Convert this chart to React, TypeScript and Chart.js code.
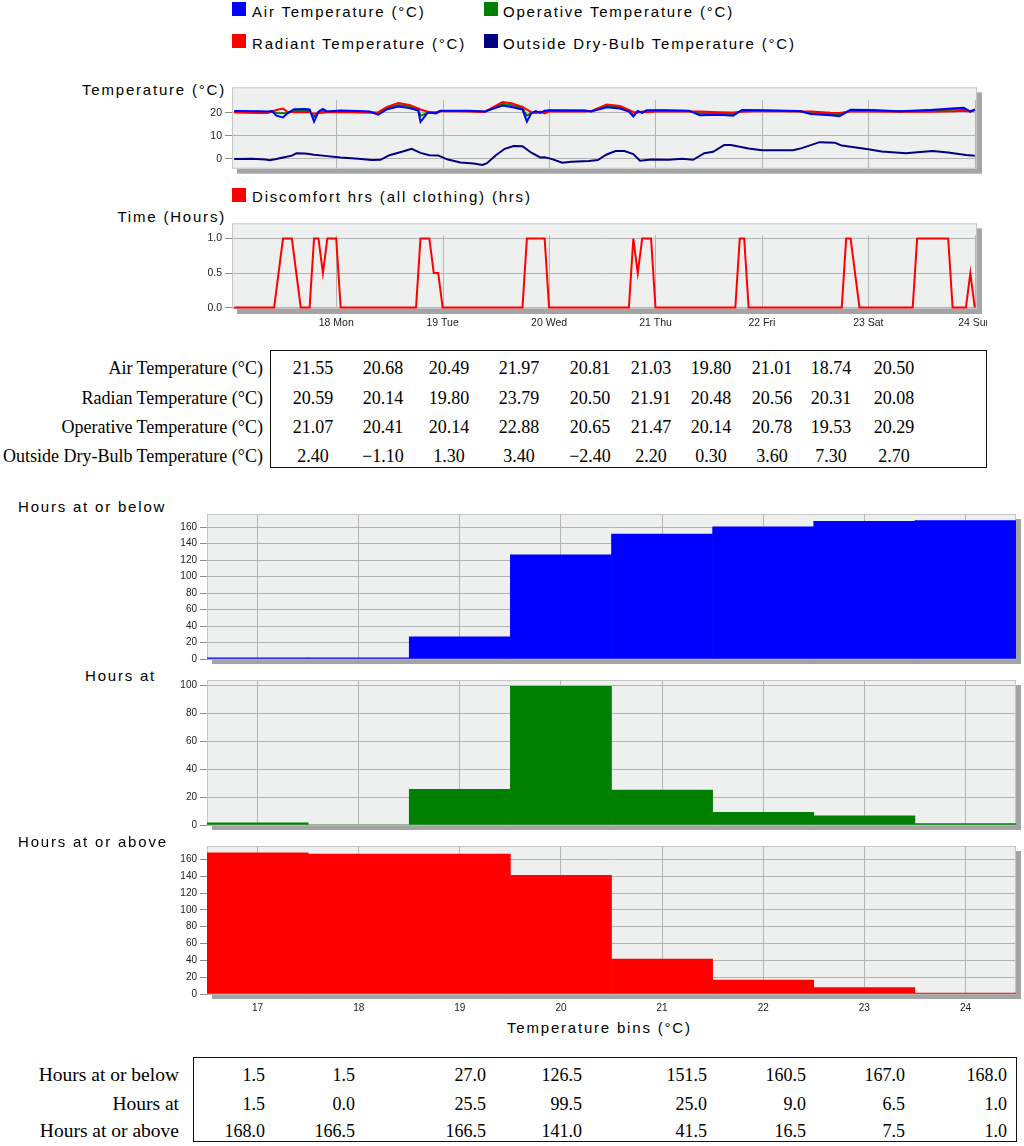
import React, { useEffect, useRef } from 'react';
import { Chart, registerables } from 'chart.js';

Chart.register(...registerables);

// ---------------- DATA ----------------
const dayTickHours = [24, 48, 72, 96, 120, 144, 168];
const dayTickLabels = ['18 Mon', '19 Tue', '20 Wed', '21 Thu', '22 Fri', '23 Sat', '24 Sun'];

const indoorHours = [1, 7, 8.5, 9.5, 10.5, 12, 13, 14.5, 17, 18, 19, 20, 21, 22, 25, 29, 31.5, 33.5, 35.5, 38, 40.5, 42.5, 43, 44.5, 45, 46.5, 47.5, 54, 57.5, 61.5, 63.5, 66, 67, 68, 69, 70, 71, 72, 80, 81.5, 85, 88, 90, 91, 92, 93, 94, 97, 103.5, 106, 110.5, 113.5, 115.5, 119.5, 128.5, 131, 135.5, 137.5, 140, 144.5, 151, 158, 163.5, 165.5, 167, 168];
const airTemp = [20.8, 20.7, 20.6, 20.8, 18.8, 18.0, 19.8, 21.6, 21.7, 21.5, 16.2, 20.5, 21.7, 20.6, 21.0, 20.8, 20.6, 19.2, 21.6, 22.8, 22.1, 21.0, 16.1, 19.8, 20.2, 19.8, 20.9, 20.9, 20.6, 23.2, 22.6, 21.5, 16.2, 19.8, 20.8, 20.0, 21.0, 21.2, 21.1, 20.6, 22.5, 21.9, 20.6, 18.4, 20.8, 20.0, 21.2, 21.2, 21.0, 19.0, 19.2, 18.8, 21.3, 21.2, 20.8, 19.5, 19.0, 18.6, 21.4, 21.3, 20.7, 21.3, 22.0, 22.3, 20.6, 21.5];
const radiantTemp = [20.2, 20.0, 20.0, 20.6, 21.3, 21.9, 20.5, 20.3, 20.4, 20.3, 19.6, 20.0, 20.1, 20.3, 20.4, 20.2, 20.1, 20.3, 22.6, 24.3, 23.5, 22.0, 21.5, 20.6, 20.4, 20.3, 20.8, 20.6, 20.4, 24.8, 24.2, 22.6, 21.4, 20.3, 20.0, 20.6, 19.8, 20.6, 20.6, 20.8, 23.7, 23.0, 21.3, 20.4, 20.2, 20.6, 20.3, 20.7, 20.6, 20.6, 20.3, 20.2, 20.5, 20.8, 20.6, 20.6, 20.1, 20.0, 20.6, 20.6, 20.5, 20.5, 20.7, 20.9, 20.6, 21.2];
const operativeTemp = [20.4, 20.3, 20.3, 20.7, 20.0, 19.8, 20.0, 20.8, 20.9, 20.8, 18.3, 20.2, 20.7, 20.5, 20.7, 20.5, 20.4, 19.8, 22.2, 23.5, 22.8, 21.5, 18.7, 20.0, 20.2, 20.0, 20.8, 20.8, 20.5, 24.0, 23.4, 22.0, 18.8, 20.0, 20.3, 20.2, 20.4, 20.9, 20.9, 20.7, 23.1, 22.4, 20.9, 19.1, 20.5, 20.2, 20.8, 21.0, 20.8, 19.8, 19.8, 19.4, 20.9, 21.0, 20.7, 20.0, 19.5, 19.3, 21.0, 21.0, 20.6, 21.0, 21.4, 21.6, 20.6, 21.4];

const outsideHours = [1, 5, 8, 9, 10.5, 12, 14, 15, 17, 19, 22, 25, 29, 32, 34, 36, 39, 41, 43, 45, 47, 49, 52, 55, 57, 58, 60, 62, 64, 66, 68, 70, 71, 72.5, 75, 77, 81, 83, 85, 87, 89, 91, 92.5, 95, 99, 102, 104.5, 107, 109, 111.5, 113, 117, 120, 127, 129, 133, 136.5, 138, 144, 147, 152.5, 155, 158.5, 162, 166, 168];
const outsideTemp = [-0.2, -0.1, -0.4, -0.7, -0.2, 0.5, 1.3, 2.3, 2.2, 1.7, 1.1, 0.5, 0, -0.6, -0.5, 1.5, 3.1, 4.3, 2.5, 1.5, 1.4, -0.3, -1.7, -2.1, -2.8, -2.0, 1.5, 4.3, 5.5, 5.4, 2.6, 0.5, 0.6, -0.1, -1.8, -1.4, -1.0, -0.6, 1.8, 3.3, 3.3, 2.0, -0.9, -0.4, -0.5, -0.1, -0.5, 2.4, 3.0, 6.0, 6.0, 4.4, 3.7, 3.7, 4.6, 7.2, 6.9, 5.7, 4.1, 3.1, 2.4, 2.8, 3.3, 2.7, 1.6, 1.3];

const discomfortHours = [1, 10, 12, 14, 16, 18, 19, 20, 21, 22, 24, 25, 42, 43, 45, 46, 47, 48, 66, 67, 71, 72, 90, 91, 92, 93, 95, 96, 114, 115, 116, 117, 138, 139, 140, 142, 154, 155, 162, 163, 166, 167, 168];
const discomfortValues = [0, 0, 1, 1, 0, 0, 1, 1, 0.5, 1, 1, 0, 0, 1, 1, 0.5, 0.5, 0, 0, 1, 1, 0, 0, 1, 0.5, 1, 1, 0, 0, 1, 1, 0, 0, 1, 1, 0, 0, 1, 1, 0, 0, 0.5, 0];

const binLabels = ['17', '18', '19', '20', '21', '22', '23', '24'];
const hoursAtOrBelow = [1.5, 1.5, 27.0, 126.5, 151.5, 160.5, 167.0, 168.0];
const hoursAt = [1.5, 0.0, 25.5, 99.5, 25.0, 9.0, 6.5, 1.0];
const hoursAtOrAbove = [168.0, 166.5, 166.5, 141.0, 41.5, 16.5, 7.5, 1.0];

const summaryLabels = ['Air Temperature (°C)', 'Radian Temperature (°C)', 'Operative Temperature (°C)', 'Outside Dry-Bulb Temperature (°C)'];
const summaryAir = [21.55, 20.68, 20.49, 21.97, 20.81, 21.03, 19.80, 21.01, 18.74, 20.50];
const summaryRadiant = [20.59, 20.14, 19.80, 23.79, 20.50, 21.91, 20.48, 20.56, 20.31, 20.08];
const summaryOperative = [21.07, 20.41, 20.14, 22.88, 20.65, 21.47, 20.14, 20.78, 19.53, 20.29];
const summaryOutside = [2.40, -1.10, 1.30, 3.40, -2.40, 2.20, 0.30, 3.60, 7.30, 2.70];

const binTableLabels = ['Hours at or below', 'Hours at', 'Hours at or above'];

// ---------------- STYLE / LAYOUT ----------------
const SANS = '"Liberation Sans", Arial, Helvetica, sans-serif';
const SERIF = '"Liberation Serif", "Times New Roman", Times, serif';
const BLUE = '#0000ff';
const GREEN = '#008000';
const RED = '#ff0000';
const NAVY = '#000080';

const sumCols = [313, 383, 449, 519, 590, 651, 711, 772, 831, 894];
const sumRows = [368, 398, 427, 456];
const binCols = [265, 355, 486, 582, 707, 806, 905, 1007];
const binRows = [1075, 1104, 1131];

function makeFrame(vLines?: number[], vTop = 0) {
  return {
    id: 'frame',
    beforeDraw(chart: any) {
      const { ctx, chartArea: a } = chart;
      ctx.save();
      ctx.fillStyle = '#a4a4a4';
      ctx.fillRect(a.left + 5, a.top + 5, a.right - a.left, a.bottom - a.top);
      ctx.fillStyle = '#eef0ef';
      ctx.fillRect(a.left, a.top, a.right - a.left, a.bottom - a.top);
      ctx.restore();
    },
    beforeDatasetsDraw(chart: any) {
      const { ctx, chartArea: a } = chart;
      ctx.save();
      if (vLines) {
        const xs = chart.scales.x;
        ctx.strokeStyle = '#b4b4b4';
        ctx.lineWidth = 1;
        for (const v of vLines) {
          const px = Math.round(xs.getPixelForValue(v)) + 0.5;
          ctx.beginPath();
          ctx.moveTo(px, a.top + vTop);
          ctx.lineTo(px, a.bottom);
          ctx.stroke();
        }
      }
      ctx.strokeStyle = '#c6c6c6';
      ctx.lineWidth = 1;
      ctx.strokeRect(a.left + 0.5, a.top + 0.5, a.right - a.left - 1, a.bottom - a.top - 1);
      ctx.restore();
    },
  };
}

function yAxis(min: number, max: number, ticks: number[], width: number, size: number, fmt: (v: number) => string) {
  return {
    type: 'linear',
    min,
    max,
    afterBuildTicks: (s: any) => { s.ticks = ticks.map((v) => ({ value: v })); },
    afterFit: (s: any) => { s.width = width; },
    grid: { color: '#b4b4b4', lineWidth: 1, tickLength: 7, tickColor: '#8c8c8c', drawTicks: true },
    border: { display: false },
    ticks: { padding: 3, color: '#222', font: { family: SANS, size }, callback: (v: any) => fmt(Number(v)) },
  };
}

function pts(xs: number[], ys: number[]) {
  return xs.map((x, i) => ({ x, y: ys[i] }));
}

function lineDs(data: any[], color: string) {
  return { data, borderColor: color, backgroundColor: color, borderWidth: 2, pointRadius: 0, tension: 0, fill: false };
}

function histogramConfig(values: number[], color: string, yMax: number, yTicks: number[], showLabels: boolean): any {
  return {
    type: 'bar',
    data: {
      labels: binLabels,
      datasets: [{ data: values, backgroundColor: color, borderWidth: 0, barPercentage: 1, categoryPercentage: 1 }],
    },
    options: {
      animation: false,
      responsive: false,
      layout: { padding: { top: 6, right: 8, bottom: showLabels ? 0 : 6, left: 0 } },
      plugins: { legend: { display: false }, tooltip: { enabled: false } },
      scales: {
        x: {
          type: 'category',
          offset: true,
          grid: { offset: false, color: '#b4b4b4', drawTicks: false },
          border: { display: false },
          ticks: { display: showLabels, padding: 8, color: '#222', font: { family: SANS, size: 10 }, maxRotation: 0, autoSkip: false },
          afterFit: (s: any) => { s.height = showLabels ? 22 : 0; s.paddingLeft = 0; s.paddingRight = 0; },
        },
        y: yAxis(0, yMax, yTicks, 47, 10, (v) => String(v)),
      },
    },
    plugins: [makeFrame()],
  };
}

const titleStyle: React.CSSProperties = {
  position: 'absolute',
  fontFamily: SANS,
  fontSize: 15,
  letterSpacing: '1.8px',
  color: '#000',
  whiteSpace: 'nowrap',
  height: 18,
  lineHeight: '18px',
};

const serifStyle: React.CSSProperties = {
  position: 'absolute',
  fontFamily: SERIF,
  fontSize: 18,
  color: '#000',
  whiteSpace: 'nowrap',
  height: 22,
  lineHeight: '22px',
};

function Title({ text, left, right, cy }: { text: string; left?: number; right?: number; cy: number }) {
  const st: React.CSSProperties = { ...titleStyle, top: cy - 9 };
  if (right !== undefined) { st.right = 1024 - right - 2; st.textAlign = 'right'; } else { st.left = left; }
  return <div style={st}>{text}</div>;
}

function Swatch({ left, top, color }: { left: number; top: number; color: string }) {
  return <div style={{ position: 'absolute', left, top, width: 14, height: 14, background: color }} />;
}

function fmt2(v: number) {
  return v.toFixed(2).replace('-', '\u2212');
}

export default function App() {
  const tempRef = useRef<HTMLCanvasElement>(null);
  const discRef = useRef<HTMLCanvasElement>(null);
  const belowRef = useRef<HTMLCanvasElement>(null);
  const atRef = useRef<HTMLCanvasElement>(null);
  const aboveRef = useRef<HTMLCanvasElement>(null);

  useEffect(() => {
    const charts: Chart[] = [];

    charts.push(new Chart(tempRef.current!, {
      type: 'line',
      data: {
        datasets: [
          lineDs(pts(indoorHours, airTemp), BLUE),
          lineDs(pts(indoorHours, radiantTemp), RED),
          lineDs(pts(indoorHours, operativeTemp), GREEN),
          lineDs(pts(outsideHours, outsideTemp), NAVY),
        ],
      },
      options: {
        animation: false,
        responsive: false,
        layout: { padding: { top: 5, right: 10, bottom: 6, left: 0 } },
        plugins: { legend: { display: false }, tooltip: { enabled: false } },
        scales: {
          x: { type: 'linear', min: 0.5, max: 168.5, display: false },
          y: yAxis(-4.4, 31.2, [0, 10, 20], 42, 10.5, (v) => String(v)) as any,
        },
      },
      plugins: [makeFrame(dayTickHours, 13)],
    } as any));

    charts.push(new Chart(discRef.current!, {
      type: 'line',
      data: { datasets: [lineDs(pts(discomfortHours, discomfortValues), RED)] },
      options: {
        animation: false,
        responsive: false,
        layout: { padding: { top: 6, right: 10, bottom: 0, left: 0 } },
        plugins: { legend: { display: false }, tooltip: { enabled: false } },
        scales: {
          x: {
            type: 'linear',
            min: 0.5,
            max: 168.5,
            afterBuildTicks: (s: any) => { s.ticks = dayTickHours.map((v) => ({ value: v })); },
            afterFit: (s: any) => { s.height = 24; s.paddingLeft = 0; s.paddingRight = 0; },
            grid: { display: false, drawTicks: false },
            border: { display: false },
            ticks: {
              padding: 8, color: '#222', font: { family: SANS, size: 10.5 }, maxRotation: 0, autoSkip: false,
              callback: (_v: any, i: number) => dayTickLabels[i],
            },
          },
          y: yAxis(-0.02, 1.22, [0, 0.5, 1], 42, 10.5, (v) => v.toFixed(1)) as any,
        },
      },
      plugins: [makeFrame(dayTickHours, 12)],
    } as any));

    charts.push(new Chart(belowRef.current!, histogramConfig(hoursAtOrBelow, BLUE, 176, [0, 20, 40, 60, 80, 100, 120, 140, 160], false)));
    charts.push(new Chart(atRef.current!, histogramConfig(hoursAt, GREEN, 104, [0, 20, 40, 60, 80, 100], false)));
    charts.push(new Chart(aboveRef.current!, histogramConfig(hoursAtOrAbove, RED, 176, [0, 20, 40, 60, 80, 100, 120, 140, 160], true)));

    return () => { charts.forEach((c) => c.destroy()); };
  }, []);

  const summaryRows = [summaryAir, summaryRadiant, summaryOperative, summaryOutside];
  const binRowsData = [hoursAtOrBelow, hoursAt, hoursAtOrAbove];

  const canvasStyle = (left: number, top: number, w: number, h: number): React.CSSProperties => ({
    position: 'absolute', left, top, width: w, height: h,
  });

  return (
    <div style={{ position: 'absolute', left: 0, top: 0, width: 1024, height: 1146, background: '#fff', overflow: 'hidden' }}>
      {/* top legend */}
      <Swatch left={232} top={2} color={BLUE} />
      <Title text="Air Temperature (°C)" left={252} cy={12} />
      <Swatch left={484} top={2} color={GREEN} />
      <Title text="Operative Temperature (°C)" left={503} cy={12} />
      <Swatch left={232} top={34} color={RED} />
      <Title text="Radiant Temperature (°C)" left={252} cy={44} />
      <Swatch left={484} top={34} color={NAVY} />
      <Title text="Outside Dry-Bulb Temperature (°C)" left={503} cy={44} />

      <Title text="Temperature (°C)" right={224} cy={90} />
      <canvas ref={tempRef} width={797} height={100} style={canvasStyle(190, 78, 797, 100)} />

      <Swatch left={232} top={188} color={RED} />
      <Title text="Discomfort hrs (all clothing) (hrs)" left={252} cy={197} />
      <Title text="Time (Hours)" right={224} cy={217} />
      <canvas ref={discRef} width={797} height={119} style={canvasStyle(190, 214, 797, 119)} />

      {/* summary table */}
      <div style={{ position: 'absolute', left: 270, top: 350, width: 717, height: 118, border: '1.5px solid #111', boxSizing: 'border-box' }} />
      {summaryLabels.map((lab, r) => (
        <div key={'sl' + r} style={{ ...serifStyle, top: sumRows[r] - 11, right: 1024 - 263, textAlign: 'right' }}>{lab}</div>
      ))}
      {summaryRows.map((row, r) => row.map((v, c) => (
        <div key={'sv' + r + '-' + c} style={{ ...serifStyle, top: sumRows[r] - 11, left: sumCols[c] - 40, width: 80, textAlign: 'center' }}>{fmt2(v)}</div>
      )))}

      {/* histograms */}
      <Title text="Hours at or below" left={18} cy={507} />
      <canvas ref={belowRef} width={864} height={163} style={canvasStyle(160, 505, 864, 163)} />
      <Title text="Hours at" left={85} cy={676} />
      <canvas ref={atRef} width={864} height={163} style={canvasStyle(160, 671, 864, 163)} />
      <Title text="Hours at or above" left={18} cy={842} />
      <canvas ref={aboveRef} width={864} height={179} style={canvasStyle(160, 837, 864, 179)} />
      <Title text="Temperature bins (°C)" left={507} cy={1028} />

      {/* bin table */}
      <div style={{ position: 'absolute', left: 193, top: 1057, width: 824, height: 85, border: '1.5px solid #111', boxSizing: 'border-box' }} />
      {binTableLabels.map((lab, r) => (
        <div key={'bl' + r} style={{ ...serifStyle, fontSize: 19.5, top: binRows[r] - 11, right: 1024 - 179, textAlign: 'right' }}>{lab}</div>
      ))}
      {binRowsData.map((row, r) => row.map((v, c) => (
        <div key={'bv' + r + '-' + c} style={{ ...serifStyle, top: binRows[r] - 11, right: 1024 - binCols[c], textAlign: 'right' }}>{v.toFixed(1)}</div>
      )))}
    </div>
  );
}
